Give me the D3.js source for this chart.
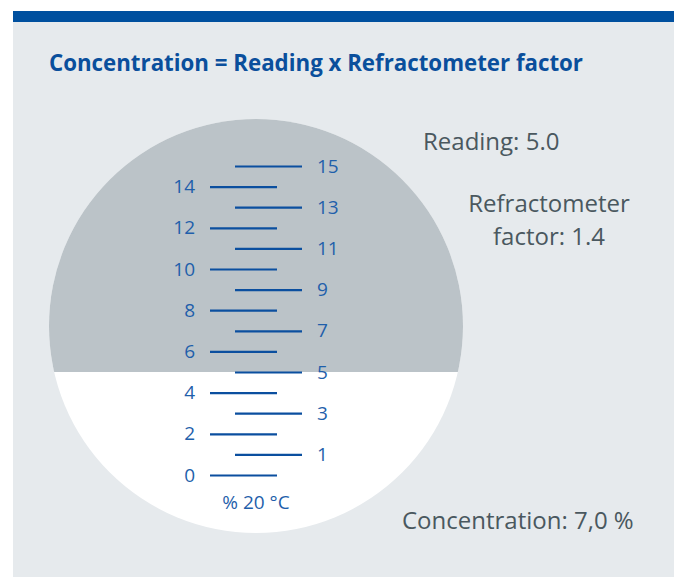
<!DOCTYPE html>
<meta charset="utf-8">
<html>
<style>
  body { margin: 0; background: #fff; }
  svg text { font-family: "Open Sans", "Noto Sans", sans-serif; }
  .scale text { font-size: 19px; fill: #1f5fab; }
  .scale line { stroke: #0b4f9f; stroke-width: 2.2px; }
  .note { font-size: 24px; fill: #4a585f; }
</style>
<body>
<svg width="678" height="577"></svg>
<script src="https://d3js.org/d3.v7.min.js"></script>
<script>

// scale graduations on the refractometer reticle
var evenTicks = [0, 2, 4, 6, 8, 10, 12, 14];
var oddTicks = [1, 3, 5, 7, 9, 11, 13, 15];
var scaleDomain = [0, 15];
var unitLabel = "% 20 °C";

var reading = 5.0;
var factor = 1.4;
var title = "Concentration = Reading x Refractometer factor";
var readingText = ["Reading: 5.0"];
var factorText = ["Refractometer", "factor: 1.4"];
var concText = ["Concentration: 7,0 %"];

var svg = d3.select("svg"),
    width = +svg.attr("width"),
    height = +svg.attr("height");

// panel
svg.append("rect")
    .attr("x", 13).attr("y", 11)
    .attr("width", 661).attr("height", 566)
    .attr("fill", "#e6eaed");
svg.append("rect")
    .attr("x", 13).attr("y", 11)
    .attr("width", 661).attr("height", 11)
    .attr("fill", "#00509f");

svg.append("text")
    .attr("x", 49).attr("y", 71)
    .attr("font-size", 23)
    .attr("font-weight", "bold")
    .attr("fill", "#0a4f9c")
    .attr("textLength", 534)
    .attr("lengthAdjust", "spacingAndGlyphs")
    .text(title);

var cx = 256, cy = 326, r = 207;

var y = d3.scaleLinear()
    .domain(scaleDomain)
    .range([475, 166]);

// the view field: white, with the shadow above the reading line
svg.append("circle")
    .attr("cx", cx).attr("cy", cy).attr("r", r)
    .attr("fill", "#fff");

svg.append("clipPath")
    .attr("id", "shade")
  .append("rect")
    .attr("x", cx - r).attr("y", cy - r)
    .attr("width", 2 * r)
    .attr("height", y(reading) - (cy - r));

svg.append("circle")
    .attr("cx", cx).attr("cy", cy).attr("r", r)
    .attr("fill", "#bbc3c8")
    .attr("clip-path", "url(#shade)");

// reticle scale, built from two axes
var leftAxis = d3.axisLeft(y)
    .tickValues(evenTicks)
    .tickSize(67)
    .tickPadding(15)
    .tickFormat(d3.format("d"));

var rightAxis = d3.axisRight(y)
    .tickValues(oddTicks)
    .tickSize(67)
    .tickPadding(15)
    .tickFormat(d3.format("d"));

var gl = svg.append("g")
    .attr("class", "scale")
    .attr("transform", "translate(277,0)")
    .call(leftAxis);

var gr = svg.append("g")
    .attr("class", "scale")
    .attr("transform", "translate(235,0)")
    .call(rightAxis);

svg.selectAll(".scale .domain").remove();
svg.selectAll(".scale text").attr("font-family", null).attr("font-size", null).attr("fill", null);
svg.selectAll(".scale line").attr("stroke", null);

svg.append("text")
    .attr("x", 256).attr("y", 509)
    .attr("text-anchor", "middle")
    .attr("font-size", 19)
    .attr("fill", "#1f5fab")
    .text(unitLabel);

// annotations
svg.append("text")
    .attr("class", "note")
    .attr("x", 423).attr("y", 150)
    .text(readingText[0]);

svg.append("g")
    .selectAll("text")
    .data(factorText)
    .join("text")
    .attr("class", "note")
    .attr("x", 549)
    .attr("y", function(d, i) { return 212 + i * 33; })
    .attr("text-anchor", "middle")
    .text(function(d) { return d; });

svg.append("text")
    .attr("class", "note")
    .attr("x", 402).attr("y", 529)
    .text(concText[0]);

</script>
</body>
</html>
